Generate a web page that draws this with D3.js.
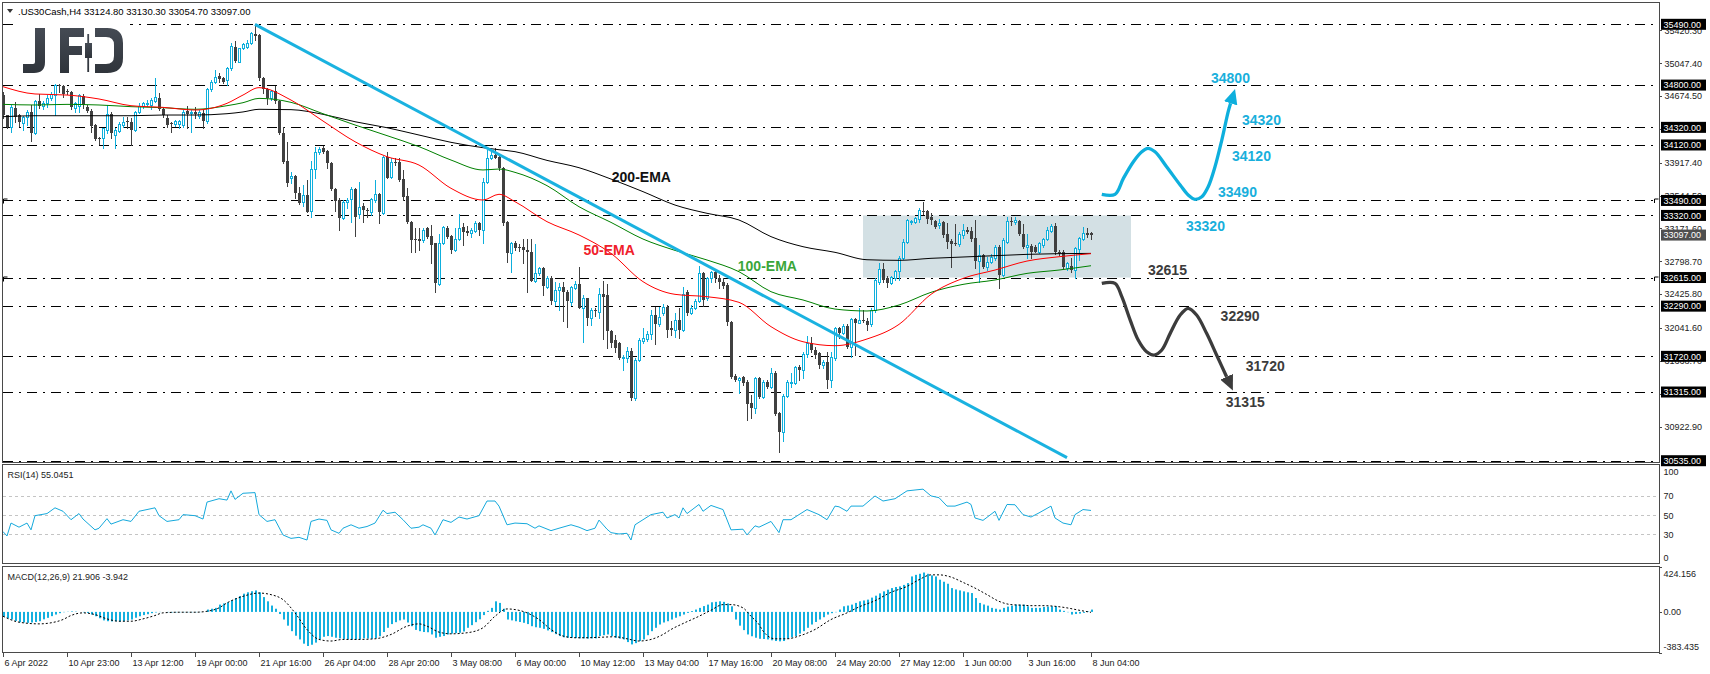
<!DOCTYPE html>
<html lang="en">
<head>
<meta charset="UTF-8" />
<title>.US30Cash,H4</title>
<style>
  html, body { margin: 0; padding: 0; background: #fff; }
  svg { display: block; }
  text { font-family: "Liberation Sans", Arial, sans-serif; }
</style>
</head>
<body>
<svg id="chart" width="1710" height="674"></svg>
<script src="https://cdnjs.cloudflare.com/ajax/libs/d3/7.8.5/d3.min.js"></script>
<script>
// ---- data (H4 bars, 6 Apr 2022 -> 8 Jun 2022) ----
var opens = [
34687,34460,34328,34543,34460,34365,34441,34498,34252,34619,
34566,34593,34649,34687,34801,34790,34733,34718,34543,34566,
34680,34555,34506,34347,34203,34195,34290,34468,34233,34278,
34347,34392,34384,34290,34490,34566,34581,34574,34619,34649,
34528,34430,34365,34354,34354,34347,34506,34479,34490,34452,
34479,34392,34755,34831,34907,34884,34858,34990,35236,35066,
35217,35236,35274,35376,35369,34884,34755,34649,34733,34619,
34252,33938,33741,33767,33571,33468,33552,33370,33847,34036,
34082,34051,33911,33620,33495,33287,33468,33506,33620,33332,
33431,33381,33362,33495,33560,33344,33987,33760,33930,33923,
33733,33540,33249,33052,33052,33041,33173,33090,33003,32537,
33003,33181,33090,32927,33052,33192,33143,33116,33143,33230,
33154,33703,33976,34006,33987,33855,33249,32889,33003,32965,
32965,32927,32901,32580,32662,32719,32511,32605,32348,32473,
32510,32454,32341,32500,32540,32272,32379,32159,32246,32227,
32424,32416,32008,31905,31867,31697,31705,31780,31251,31678,
31894,31917,31970,32189,32083,32208,32284,32038,32019,32132,
32019,32454,32208,32265,32348,32662,32379,32605,32681,32605,
32568,32530,32113,31501,31451,31489,31432,31186,31137,31470,
31262,31432,31375,31527,31073,30857,31273,31413,31413,31603,
31560,31743,31867,31792,31754,31621,31659,31451,31697,32038,
31981,32068,31830,32144,32100,32132,32121,32083,32246,32568,
32711,32605,32549,32605,32689,32833,33014,33241,33241,33279,
33370,33370,33306,33257,33211,33241,33105,33029,33003,32992,
33098,33154,33143,33060,32802,32870,32738,32795,32833,32965,
32640,33022,33257,33241,33257,33105,32965,32976,32960,32908,
32984,33052,33143,33204,32908,32901,32727,32749,32700,32939,
33052,33116,33124.8];
var highs = [
34718,34460,34574,34604,34470,34445,34517,34574,34630,34695,
34619,34687,34718,34808,34808,34801,34755,34733,34612,34695,
34695,34574,34525,34354,34214,34316,34574,34490,34309,34377,
34441,34441,34422,34506,34593,34612,34630,34649,34876,34706,
34555,34460,34377,34403,34403,34517,34566,34517,34555,34517,
34528,34770,34858,34971,34933,34895,35009,35274,35300,35225,
35274,35312,35399,35490,35376,34895,34763,34744,34790,34630,
34328,34157,33809,33779,33646,33665,33722,33938,34101,34101,
34112,34063,33923,33628,33521,33495,33521,33646,33628,33695,
33457,33408,33521,33722,33571,33998,34044,33976,33968,33968,
33836,33635,33257,33173,33173,33173,33192,33211,33003,33105,
33204,33204,33098,33173,33332,33230,33204,33173,33257,33249,
33749,34063,34063,34082,34006,33870,33257,33014,33029,32992,
33052,33052,33052,32992,32740,32730,32630,32636,32568,32550,
32568,32473,32522,32575,32738,32416,32386,32265,32265,32492,
32575,32537,32019,31962,31886,31735,31830,31818,31697,31932,
32038,32008,32246,32284,32284,32310,32303,32121,32208,32265,
32511,32473,32303,32371,32749,32674,32625,32689,32689,32643,
32605,32549,32121,31516,31489,31501,31451,31281,31489,31489,
31451,31451,31591,31553,31092,31289,31451,31527,31614,31621,
31765,31954,31943,31830,31765,31678,31765,31773,32057,32057,
32083,32083,32159,32150,32265,32250,32151,32265,32605,32776,
32776,32636,32636,32700,32863,33052,33279,33268,33306,33408,
33476,33381,33344,33268,33279,33257,33230,33052,33219,33128,
33219,33192,33192,33268,32984,32878,32851,32878,32984,32984,
33060,33306,33306,33306,33268,33219,33105,32992,32984,33022,
33067,33192,33219,33230,32927,32927,32795,32840,32965,33079,
33192,33173,33130.3];
var lows = [
34422,34309,34263,34384,34339,34290,34347,34165,34241,34543,
34528,34555,34630,34460,34718,34668,34703,34528,34490,34490,
34536,34498,34263,34176,34127,34089,34252,34195,34089,34263,
34328,34309,34120,34278,34479,34543,34566,34528,34604,34517,
34441,34328,34271,34339,34309,34328,34309,34263,34422,34430,
34309,34365,34733,34820,34839,34820,34801,34971,35066,35058,
35210,35217,35263,35312,34858,34706,34581,34630,34600,34241,
33911,33658,33684,33514,33446,33431,33355,33306,33749,34013,
34025,33862,33609,33370,33154,33279,33400,33249,33090,33287,
33241,33306,33325,33476,33230,33332,33741,33749,33892,33711,
33495,33230,32901,32908,32927,33014,33067,32776,32447,32530,
32992,33067,32889,32916,33041,32984,33098,33079,33128,33098,
33003,33684,33960,33968,33840,33211,32795,32674,32927,32920,
32776,32454,32570,32560,32640,32416,32500,32310,32303,32246,
32121,32057,32303,32490,32265,31880,32076,32076,32180,32159,
31917,31818,31830,31773,31690,31565,31660,31224,31224,31668,
31867,31894,31917,31856,32068,32189,31943,31962,31943,31924,
32008,32189,32197,32257,32333,32295,32360,32568,32568,32500,
32492,32076,31470,31440,31300,31394,30997,31016,31073,31243,
31251,31357,31364,31054,30630,30759,31262,31375,31402,31451,
31470,31716,31773,31697,31584,31591,31357,31375,31678,31924,
31970,31818,31716,31735,32095,32106,32019,32068,32227,32537,
32568,32511,32537,32587,32587,32825,33003,33219,33230,33241,
33332,33230,33219,33173,33173,33079,32946,32738,32984,32976,
33060,33116,33029,32719,32568,32719,32700,32776,32814,32500,
32630,33003,33211,33219,33098,32946,32840,32833,32901,32889,
32965,33041,33128,32878,32870,32719,32700,32674,32605,32814,
33041,33079,33054.7];
var closes = [
34460,34328,34555,34441,34377,34441,34498,34252,34619,34566,
34600,34657,34695,34801,34790,34695,34718,34555,34593,34687,
34574,34506,34339,34188,34188,34309,34468,34252,34290,34354,
34377,34377,34290,34490,34566,34600,34593,34630,34668,34528,
34460,34347,34354,34392,34392,34490,34468,34498,34475,34498,
34392,34755,34831,34895,34869,34839,34990,35247,35073,35217,
35263,35274,35387,35361,34876,34755,34649,34733,34619,34252,
33930,33684,33771,33571,33457,33552,33362,33847,34036,34074,
34036,33911,33620,33487,33287,33468,33495,33620,33306,33419,
33381,33370,33506,33560,33355,33987,33749,33930,33923,33722,
33533,33241,33041,33041,33029,33154,33079,32984,32549,33003,
33192,33079,32927,33052,33181,33128,33116,33154,33230,33154,
33703,33976,34006,33976,33855,33230,32889,33003,32954,32946,
32927,32901,32580,32662,32719,32522,32605,32348,32473,32510,
32454,32348,32511,32540,32272,32386,32151,32246,32235,32424,
32390,32008,31867,31811,31697,31716,31780,31251,31678,31905,
31924,31970,32189,32083,32170,32284,32019,32019,32132,32019,
32424,32208,32272,32348,32662,32360,32605,32674,32605,32568,
32522,32113,31489,31451,31478,31413,31175,31130,31470,31262,
31432,31375,31527,31061,30857,31273,31432,31432,31603,31560,
31743,31867,31792,31735,31621,31652,31451,31716,32038,31981,
32068,31830,32144,32100,32132,32121,32076,32246,32587,32711,
32587,32549,32625,32689,32840,33022,33268,33257,33287,33381,
33355,33279,33268,33192,33230,33098,33022,32992,32992,33105,
33154,33135,33052,32802,32870,32738,32795,32851,32965,32640,
33041,33257,33249,33268,33105,32965,32984,32908,32908,33003,
33052,33154,33204,32901,32889,32738,32776,32700,32946,33060,
33116,33098,33097];

// moving averages sampled along the chart
var emaBars = [0,8,16,24,32,40,48,56,60,64,72,80,88,96,104,112,120,124,128,136,144,152,160,168,176,184,192,200,208,216,224,232,240,248,256,264,272];
var ema50 = [34782,34699,34687,34642,34566,34547,34517,34593,34687,34771,34630,34392,34157,33987,33892,33628,33495,33560,33476,33249,33098,32889,32568,32424,32397,32333,32057,31886,31841,31917,32083,32424,32605,32700,32802,32851,32886];
var ema100 = [34581,34574,34581,34574,34555,34543,34525,34566,34600,34649,34604,34475,34347,34226,34101,33949,33836,33847,33809,33658,33419,33241,33052,32923,32814,32681,32454,32360,32257,32235,32303,32447,32537,32587,32662,32700,32749];
var ema200 = [34441,34452,34452,34452,34452,34460,34460,34475,34495,34525,34521,34468,34384,34316,34233,34150,34089,34066,34044,33945,33862,33733,33590,33438,33344,33268,33079,32965,32901,32817,32810,32833,32848,32863,32878,32886,32889];

var rsiBars = [0,1,2,4,6,7,8,11,13,15,17,19,20,23,24,26,27,30,32,34,36,38,39,41,44,45,48,50,51,54,56,57,58,60,63,64,66,68,70,72,74,76,77,79,81,82,84,85,87,89,91,93,95,96,98,100,102,104,105,107,108,110,112,114,116,119,121,123,124,126,128,131,133,134,137,139,142,144,146,148,149,151,152,154,156,157,158,160,162,165,166,168,169,170,171,174,175,177,180,182,185,186,188,189,192,194,195,197,199,201,204,206,208,209,211,212,215,218,220,223,226,230,232,234,236,238,241,242,243,245,248,249,251,253,255,257,259,262,263,265,267,268,270,272];
var rsiValues = [33,28.4,41.9,37.6,41.9,34.8,49.6,51.8,57.8,54.2,45.4,51.8,46.1,34.8,36.5,46.5,40.8,45.4,43.6,54.2,56,57.8,49.6,43.6,45.4,50.7,49.6,46.1,63.8,67.3,65.9,75.5,66.6,73,73.7,50.7,43.6,45.4,29.5,25.9,27,24.2,43.6,46.1,44.7,34.8,31.2,36.5,40.1,36.5,38.3,41.9,55.3,51.8,53.2,45.4,36.5,37.6,40.1,36.5,29.5,45.4,42.6,48.2,46.1,49.6,64.9,64.9,59.6,40.1,41.9,41.2,36.5,39,34,36.5,40.1,37.6,34,36.5,45,35.5,31.9,30.5,31.2,24.2,40.1,45.4,50.7,53.2,47.2,50.7,47.2,57.8,51.8,61.3,54.2,60.3,56,34.8,35.5,29.5,39,37.6,43.6,31.9,45.4,45.4,50.7,56,50.7,45.4,59.6,58.9,54.2,59.6,59.6,70.2,64.9,67.3,75.5,77.3,70.2,68.4,59.6,59.6,63.8,61.3,47.2,44.7,54.2,44.7,61.3,61,50.7,48.2,52.5,59.6,47.2,41.9,40.1,50.7,56,55.0451];
var rsiLevels = [70, 50, 30];

var macdMain = [
-45,-60,-72,-85,-97,-100,-103,-100,-95,-88,
-70,-56,-40,-25,-12,-3,2,5,3,0,
-5,-10,-25,-41,-60,-80,-88,-90,-88,-90,
-88,-80,-72,-55,-41,-30,-22,-12,-5,-2,
0,-3,-5,-4,-3,-3,-3,-3,-3,-2,
0,22,30,38,69,80,90,110,131,150,
172,185,195,203,185,140,100,60,30,-20,
-72,-130,-182,-225,-260,-300,-322,-310,-290,-260,
-235,-228,-235,-244,-250,-255,-258,-260,-260,-258,
-250,-252,-254,-248,-230,-190,-150,-115,-97,-80,
-72,-100,-135,-170,-182,-190,-192,-213,-244,-235,
-228,-213,-205,-200,-197,-185,-150,-125,-97,-70,
-30,10,38,100,85,30,-72,-80,-88,-95,
-103,-115,-135,-145,-150,-160,-175,-191,-210,-228,
-240,-244,-244,-247,-250,-250,-252,-250,-250,-228,
-220,-213,-230,-244,-252,-260,-285,-307,-295,-275,
-260,-220,-182,-150,-119,-100,-88,-72,-55,-41,
-25,-9,8,22,38,55,69,91,95,100,
95,80,53,-72,-130,-172,-213,-230,-244,-254,
-256,-260,-268,-275,-278,-275,-254,-240,-228,-205,
-182,-150,-119,-95,-72,-50,-25,-12,-3,22,
53,60,69,85,100,108,116,135,153,175,
194,210,225,235,241,255,272,335,350,360,
372,360,345,335,304,285,266,225,212,203,
194,185,178,131,85,70,59,38,30,22,
38,50,59,69,69,69,53,38,38,38,
47,50,53,53,22,10,-3,-25,-20,-16,
-9,5,21.906];
var signalBars = [0,4,9,12,15,17,20,23,26,29,32,35,38,40,44,48,51,54,56,60,64,67,70,73,76,79,82,85,89,93,97,101,104,106,109,112,116,120,123,126,128,131,134,137,140,143,146,149,153,156,159,162,165,167,170,174,177,180,182,185,187,189,190,193,196,199,203,207,211,214,218,222,226,229,232,234,237,240,243,246,249,252,255,257,260,263,266,269,272];
var signalValues = [-41,-97,-113,-103,-72,-34,-9,-25,-66,-88,-88,-66,-34,-9,-3,-3,6,38,85,147,178,163,116,-9,-166,-260,-275,-260,-260,-254,-213,-135,-113,-135,-191,-207,-197,-150,-41,28,22,-9,-72,-166,-228,-244,-244,-240,-235,-254,-275,-260,-213,-166,-110,-41,16,69,69,38,-41,-119,-180,-254,-254,-228,-166,-72,-9,47,106,185,241,304,350,350,329,279,225,163,100,69,63,59,59,53,38,16,-3.942];

var timeLabels = ["6 Apr 2022","10 Apr 23:00","13 Apr 12:00","19 Apr 00:00","21 Apr 16:00","26 Apr 04:00","28 Apr 20:00","3 May 08:00","6 May 00:00","10 May 12:00","13 May 04:00","17 May 16:00","20 May 08:00","24 May 20:00","27 May 12:00","1 Jun 00:00","3 Jun 16:00","8 Jun 04:00"];
var barsPerLabel = 16;

var levels = [35490, 34800, 34320, 34120, 33490, 33320, 32615, 32290, 31720, 31315, 30535];
var markedLevels = [33490, 32615];
var priceTicks = [35420.30, 35047.40, 34674.50, 34301.60, 33917.40, 33544.50, 33171.60, 32798.70, 32425.80, 32041.60, 31668.70, 31295.80, 30922.90];
var lastPrice = 33097.00;

// drawings: trend line, range box, the two scenarios
var trendBars = [63, 266];
var trendPrices = [35490, 30570];
var boxBars = [215, 282];
var boxPrices = [33320, 32615];
var upBars = [274.7,278,280.1,282.6,284.7,286.2,288,290.9,294.3,296.3,298,299.7,301.3,303,304.7,306.3,306.9];
var upPrices = [33560,33560,33741,33930,34043,34082,34043,33873,33665,33552,33503,33532,33646,33873,34176,34498,34593];
var downBars = [274.7,278,279.7,281.8,283.8,285.9,287.8,289.7,291.8,294.3,296.3,298.4,300.9,303.4,305.9];
var downPrices = [32549,32549,32397,32132,31905,31772,31735,31792,31981,32189,32265,32189,31981,31735,31488];
var upTargets = ["34800","34320","34120","33490","33320"];
var downTargets = ["32615","32290","31720","31315"];

// ---- scales ----
var CYAN = "#0eafdd", DARK = "#404040";
var svg = d3.select("#chart");
var x = d3.scaleLinear().domain([0, 272]).range([3, 1091]);
var y = d3.scaleLinear().domain([30509, 35732]).range([463, 3]);
var yRsi = d3.scaleLinear().domain([0, 100]).range([563.2, 467.4]);
var yMacd = d3.scaleLinear().domain([-383.435, 424.156]).range([652.5, 567]);
var crisp = function(v) { return Math.round(v) + 0.5; };

svg.append("rect").attr("width", 1710).attr("height", 674).attr("fill", "#fff");

var defs = svg.append("defs");
[["headUp", CYAN], ["headDown", "#3c3c3c"]].forEach(function(m) {
  defs.append("marker").attr("id", m[0]).attr("viewBox", "0 0 15 14")
    .attr("refX", 0).attr("refY", 7).attr("markerWidth", 15).attr("markerHeight", 14)
    .attr("markerUnits", "userSpaceOnUse").attr("orient", "auto")
    .append("path").attr("d", "M0,0 L15,7 L0,14 Z").attr("fill", m[1]);
});
var grad = defs.append("linearGradient").attr("id", "logoGrad").attr("x1", 0).attr("y1", 0).attr("x2", 0).attr("y2", 1);
grad.append("stop").attr("offset", "0%").attr("stop-color", "#454b54");
grad.append("stop").attr("offset", "100%").attr("stop-color", "#2f343b");

// range box
svg.append("rect")
  .attr("x", x(boxBars[0])).attr("y", y(boxPrices[0]))
  .attr("width", x(boxBars[1]) - x(boxBars[0]))
  .attr("height", y(boxPrices[1]) - y(boxPrices[0]))
  .attr("fill", "#d3e0e4");

// horizontal levels
svg.append("g").selectAll("line").data(levels).enter().append("line")
  .attr("x1", 3).attr("x2", 1659)
  .attr("y1", function(d) { return crisp(y(d)); }).attr("y2", function(d) { return crisp(y(d)); })
  .attr("stroke", "#000").attr("stroke-dasharray", "10,6,2,6");
svg.append("g").selectAll("path").data(markedLevels).enter().append("path")
  .attr("d", function(d) { var v = crisp(y(d)); return "M3.5," + (v + 3) + "V" + (v - 1.5) + "H7.5M1654.5," + (v + 2.5) + "V" + (v - 1.5) + "H1658.5"; })
  .attr("fill", "none").attr("stroke", "#000");

// candles
var bars = d3.range(opens.length).map(function(i) {
  return { i: i, o: opens[i], h: highs[i], l: lows[i], c: closes[i] };
});
var gC = svg.append("g");
gC.selectAll("line").data(bars).enter().append("line")
  .attr("x1", function(d) { return x(d.i) + 0.5; }).attr("x2", function(d) { return x(d.i) + 0.5; })
  .attr("y1", function(d) { return Math.round(y(d.h)); })
  .attr("y2", function(d) { return Math.round(y(d.l)) + 1; })
  .attr("stroke", function(d) { return d.c >= d.o ? CYAN : DARK; });
gC.selectAll("rect").data(bars).enter().append("rect")
  .each(function(d) {
    var top = Math.round(y(Math.max(d.o, d.c))), bot = Math.round(y(Math.min(d.o, d.c)));
    var r = d3.select(this);
    if (d.c >= d.o) {
      r.attr("x", x(d.i) - 0.5).attr("y", top + 0.5).attr("width", 2).attr("height", Math.max(bot - top, 1))
        .attr("fill", "#fff").attr("stroke", CYAN);
    } else {
      r.attr("x", x(d.i) - 1).attr("y", top).attr("width", 3).attr("height", Math.max(bot - top, 1))
        .attr("fill", DARK);
    }
  });

// moving averages
function sampled(bs, ys, scale) {
  return d3.line().x(function(d, k) { return x(bs[k]); }).y(function(d) { return scale(d); })
    .curve(d3.curveMonotoneX)(ys);
}
[[ema200, "#000"], [ema100, "#008000"], [ema50, "#ff0000"]].forEach(function(e) {
  svg.append("path").attr("d", sampled(emaBars, e[0], y))
    .attr("fill", "none").attr("stroke", e[1]).attr("stroke-width", 1);
});

// trend line
svg.append("line")
  .attr("x1", x(trendBars[0])).attr("y1", y(trendPrices[0]))
  .attr("x2", x(trendBars[1])).attr("y2", y(trendPrices[1]))
  .attr("stroke", "#1ab2e0").attr("stroke-width", 3);

// scenario arrows
var scen = d3.line().x(function(d) { return x(d[0]); }).y(function(d) { return y(d[1]); }).curve(d3.curveCatmullRom);
svg.append("path").attr("d", scen(upBars.map(function(b, k) { return [b, upPrices[k]]; })))
  .attr("fill", "none").attr("stroke", CYAN).attr("stroke-width", 3.3).attr("marker-end", "url(#headUp)");
svg.append("path").attr("d", scen(downBars.map(function(b, k) { return [b, downPrices[k]]; })))
  .attr("fill", "none").attr("stroke", "#3c3c3c").attr("stroke-width", 3.3).attr("marker-end", "url(#headDown)");

// annotation labels (placed in bar / price space)
var notes = [
  { t: upTargets[0], b: 302.0, p: 34820, c: "#19afdc" },
  { t: upTargets[1], b: 309.75, p: 34347, c: "#19afdc" },
  { t: upTargets[2], b: 307.25, p: 33938, c: "#19afdc" },
  { t: upTargets[3], b: 303.75, p: 33526, c: "#19afdc" },
  { t: upTargets[4], b: 295.75, p: 33146, c: "#19afdc" },
  { t: downTargets[0], b: 286.25, p: 32643, c: "#3c3c3c" },
  { t: downTargets[1], b: 304.4, p: 32121, c: "#3c3c3c" },
  { t: downTargets[2], b: 310.7, p: 31553, c: "#3c3c3c" },
  { t: downTargets[3], b: 305.7, p: 31148, c: "#3c3c3c" },
  { t: "200-EMA", b: 152.2, p: 33705, c: "#111" },
  { t: "50-EMA", b: 145.1, p: 32876, c: "#f0202a" },
  { t: "100-EMA", b: 183.7, p: 32694, c: "#3aa63a" }
];
svg.append("g").selectAll("text").data(notes).enter().append("text")
  .attr("x", function(d) { return x(d.b); }).attr("y", function(d) { return y(d.p); })
  .attr("font-size", 14).attr("font-weight", "bold")
  .attr("fill", function(d) { return d.c; }).text(function(d) { return d.t; });

// JFD logo
var logo = svg.append("g").attr("fill", "url(#logoGrad)");
svg.insert("rect", "g:last-child").attr("x", 14).attr("y", 17).attr("width", 116).attr("height", 62).attr("fill", "#fff");
logo.append("path").attr("d", "M35,28 H45 V62 Q45,73 34,73 H23 V64 H33 Q35,64 35,62 Z");
logo.append("path").attr("d", "M60,28 H84 V37 H69 V46 H82 V55 H69 V73 H60 Z");
logo.append("rect").attr("x", 87.3).attr("y", 34).attr("width", 1.8).attr("height", 38);
logo.append("rect").attr("x", 85).attr("y", 43).attr("width", 7).attr("height", 15);
logo.append("path").attr("d", "M95,28 H107 Q123,28 123,43 V58 Q123,73 107,73 H95 V64 H106 Q114,64 114,56 V45 Q114,37 106,37 H95 Z");

// title
svg.append("path").attr("d", "M7,9 L13,9 L10,13 Z").attr("fill", "#333");
svg.append("text").attr("x", 18).attr("y", 14.5).attr("font-size", 9.5).attr("fill", "#000")
  .text(".US30Cash,H4  33124.80 33130.30 33054.70 33097.00");

// ---- RSI panel ----
svg.append("g").selectAll("line").data(rsiLevels).enter().append("line")
  .attr("x1", 3).attr("x2", 1659)
  .attr("y1", function(d) { return crisp(yRsi(d)); }).attr("y2", function(d) { return crisp(yRsi(d)); })
  .attr("stroke", "#c4c4c4").attr("stroke-dasharray", "3,3");
svg.append("path")
  .attr("d", d3.line().x(function(d, k) { return x(rsiBars[k]); }).y(function(d) { return yRsi(d); })(rsiValues))
  .attr("fill", "none").attr("stroke", "#15a9dc").attr("stroke-width", 1);
svg.append("text").attr("x", 7.5).attr("y", 478).attr("font-size", 9).attr("fill", "#222").text("RSI(14) 55.0451");

// ---- MACD panel ----
svg.append("g").selectAll("rect").data(macdMain).enter().append("rect")
  .attr("x", function(d, i) { return x(i); })
  .attr("y", function(d) { return Math.min(yMacd(0), yMacd(d)); })
  .attr("width", 2)
  .attr("height", function(d) { return Math.abs(yMacd(d) - yMacd(0)); })
  .attr("fill", "#14b0df");
svg.append("path")
  .attr("d", d3.line().x(function(d, k) { return x(signalBars[k]); }).y(function(d) { return yMacd(d); }).curve(d3.curveMonotoneX)(signalValues))
  .attr("fill", "none").attr("stroke", "#000").attr("stroke-width", 1).attr("stroke-dasharray", "2,2");
svg.append("text").attr("x", 7.5).attr("y", 579.5).attr("font-size", 9).attr("fill", "#222").text("MACD(12,26,9) 21.906 -3.942");

// ---- frames ----
[[3, 463], [465, 564], [567, 653]].forEach(function(p) {
  svg.append("rect").attr("x", 2.5).attr("y", p[0] - 0.5).attr("width", 1657).attr("height", p[1] - p[0])
    .attr("fill", "none").attr("stroke", "#4a4a4a");
});

// ---- price axis ----
var axisFont = 9;
var gAx = svg.append("g").attr("font-size", axisFont).attr("fill", "#222");
gAx.selectAll("line").data(priceTicks).enter().append("line")
  .attr("x1", 1659).attr("x2", 1662)
  .attr("y1", function(d) { return crisp(y(d)); }).attr("y2", function(d) { return crisp(y(d)); })
  .attr("stroke", "#4a4a4a");
gAx.selectAll("text").data(priceTicks).enter().append("text")
  .attr("x", 1664.5).attr("y", function(d) { return y(d) + 3.3; })
  .text(function(d) { return d.toFixed(2); });

var boxes = levels.map(function(v) { return { v: v, bg: "#000" }; }).concat([{ v: lastPrice, bg: "#4f4f4f" }]);
var gB = svg.append("g").selectAll("g").data(boxes).enter().append("g");
gB.append("rect").attr("x", 1661).attr("y", function(d) { return y(d.v) - 5.5; })
  .attr("width", 45).attr("height", 11).attr("fill", function(d) { return d.bg; });
gB.append("text").attr("x", 1663.5).attr("y", function(d) { return y(d.v) + 3.3; })
  .attr("font-size", axisFont).attr("fill", "#fff").text(function(d) { return d.v.toFixed(2); });

// RSI / MACD scale labels
var rsiLab = [100, 70, 50, 30, 0];
svg.append("g").selectAll("text").data(rsiLab).enter().append("text")
  .attr("x", 1663.5).attr("y", function(d) { return Math.max(472, Math.min(557.7, yRsi(d))) + 3.3; })
  .attr("font-size", axisFont).attr("fill", "#222").text(function(d) { return d; });
var macdLab = [424.156, 0, -383.435];
svg.append("g").selectAll("text").data(macdLab).enter().append("text")
  .attr("x", 1663.5).attr("y", function(d) { return Math.max(573.7, Math.min(646.7, yMacd(d))) + 3.3; })
  .attr("font-size", axisFont).attr("fill", "#222").text(function(d) { return d === 0 ? "0.00" : String(d); });
svg.append("g").selectAll("line").data([567, yMacd(0), 652.5]).enter().append("line")
  .attr("x1", 1659).attr("x2", 1662).attr("y1", function(d) { return crisp(d); }).attr("y2", function(d) { return crisp(d); })
  .attr("stroke", "#4a4a4a");

// ---- time axis ----
var gT = svg.append("g");
gT.selectAll("line").data(timeLabels).enter().append("line")
  .attr("x1", function(d, k) { return x(k * barsPerLabel) + 0.5; }).attr("x2", function(d, k) { return x(k * barsPerLabel) + 0.5; })
  .attr("y1", 653).attr("y2", 657).attr("stroke", "#4a4a4a");
gT.selectAll("text").data(timeLabels).enter().append("text")
  .attr("x", function(d, k) { return x(k * barsPerLabel) + 1.5; }).attr("y", 666)
  .attr("font-size", axisFont).attr("fill", "#222").text(function(d) { return d; });
</script>
</body>
</html>
